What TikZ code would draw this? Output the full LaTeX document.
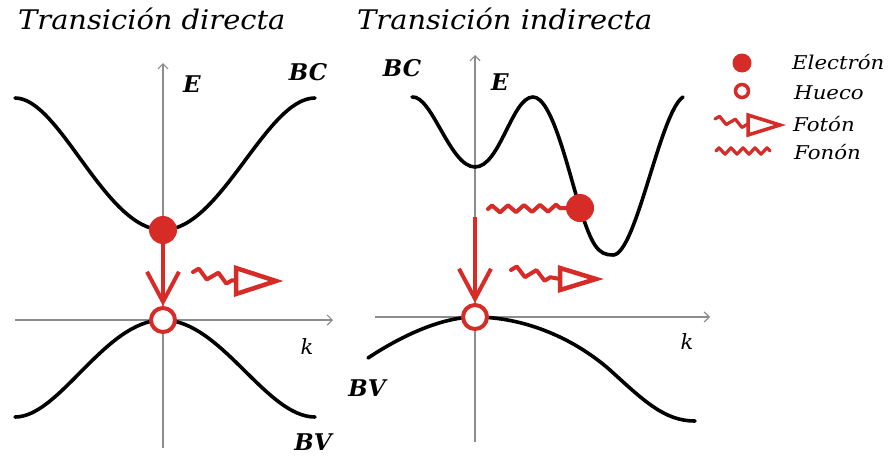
\documentclass[tikz,border=0pt]{standalone}
\usepackage{fontspec}
\setmainfont{DejaVu Serif}
\usepackage{graphicx}
\usetikzlibrary{arrows.meta,decorations.pathmorphing}
\definecolor{rd}{HTML}{D62B27}
\definecolor{ax}{HTML}{8C8C8C}
\newcommand{\wider}[2][1.07]{\scalebox{#1}[1]{#2}}
\tikzset{
  band/.style={line width=3.6pt, black, line cap=round},
  axisline/.style={line width=1.2pt, ax, -{Straight Barb[length=5pt,width=10pt,line width=1.2pt]}},
  elec/.style={circle, fill=rd, minimum size=28pt, inner sep=0pt},
  hole/.style={circle, draw=rd, line width=4pt, fill=white, minimum size=24pt, inner sep=0pt},
  trans/.style={rd, line width=4pt, -{Straight Barb[length=30pt,width=32pt,line width=4pt]}},
  wave/.style={rd, line width=4pt, line join=round, line cap=round, decorate, decoration={zigzag, segment length=16pt, amplitude=3.5pt}},
  phwave/.style={wave, decoration={zigzag, segment length=20pt, amplitude=4.5pt}},
  tri/.style={rd, line width=4.5pt, line join=miter, fill=white},
  blab/.style={font=\fontsize{23}{23}\selectfont\bfseries\itshape, inner sep=0pt},
  klab/.style={font=\fontsize{21}{21}\selectfont\itshape, inner sep=0pt},
  ttl/.style={font=\fontsize{27}{27}\selectfont\itshape, inner sep=0pt, anchor=base west},
  leg/.style={font=\fontsize{19}{19}\selectfont\itshape, inner sep=0pt, anchor=west}
}
\begin{document}
\begin{tikzpicture}[x=1pt,y=-1pt]
\useasboundingbox (0,0) rectangle (888,464);
\fill[white] (0,0) rectangle (888,464);

% titles
\node[ttl] (t1) at (18,29) {\wider{Transición directa}};
\node[ttl] (t2) at (357,29) {\wider{Transición indirecta}};

% ---------- left panel ----------
\coordinate (a1b) at (163,448); \coordinate (a1t) at (163,63);
\coordinate (a1l) at (15,320);  \coordinate (a1r) at (333,320);
\draw[axisline] (a1b) -- (a1t);
\draw[axisline] (a1l) -- (a1r);
\draw[band] (15,98) .. controls (60,98) and (105,230) .. (163,230)
            .. controls (221,230) and (266,98) .. (315,98);
\draw[band] (15,417) .. controls (60,417) and (105,320) .. (163,320)
            .. controls (221,320) and (266,417) .. (315,417);
\node[elec] (e1) at (163,230) {};
\node[hole] (h1) at (163,320) {};
\draw[trans] (e1) -- (h1);
\coordinate (p1a) at (193,272); \coordinate (p1b) at (236,281);
\draw[phwave] (p1a) -- (p1b);
\draw[tri] (236,268) -- (236,294) -- (276,281) -- cycle;
\node[blab] (E1) at (192,84) {E};
\node[blab] (BC1) at (308,72) {BC};
\node[blab] (BV1) at (313,442) {BV};
\node[klab] (k1) at (307,347) {k};

% ---------- right panel ----------
\coordinate (a2b) at (475,442); \coordinate (a2t) at (475,55);
\coordinate (a2l) at (375,317); \coordinate (a2r) at (710,317);
\draw[axisline] (a2b) -- (a2t);
\draw[axisline] (a2l) -- (a2r);
\draw[band] (412,97) .. controls (432,95) and (450,167) .. (475,167)
            .. controls (500,167) and (512,97) .. (533,97)
            .. controls (552,97) and (568,170) .. (580,208)
            .. controls (592,246) and (598,255) .. (613,255)
            .. controls (636,255) and (660,112) .. (683,97);
\draw[band] (368,358) .. controls (398,338) and (440,317) .. (475,317)
            .. controls (520,317) and (570,335) .. (610,370)
            .. controls (645,402) and (665,421) .. (695,421);
\node[elec] (e2) at (580,208) {};
\node[hole] (h2) at (475,317) {};
\coordinate (s2) at (475,217);
\draw[trans] (s2) -- (h2);
\coordinate (f2a) at (488,209);
\draw[wave] (f2a) -- (e2.west);
\coordinate (p2a) at (511,270); \coordinate (p2b) at (560,279);
\draw[phwave] (p2a) -- (p2b);
\draw[tri] (560,268) -- (560,290) -- (596,279) -- cycle;
\node[blab] (E2) at (500,82) {E};
\node[blab] (BC2) at (402,68) {BC};
\node[blab] (BV2) at (367,388) {BV};
\node[klab] (k2) at (687,342) {k};

% ---------- legend ----------
\node[circle, fill=rd, minimum size=19pt, inner sep=0pt] (le) at (742,63) {};
\node[circle, draw=rd, line width=3.5pt, fill=white, minimum size=13pt, inner sep=0pt] (lh) at (742,91) {};
\coordinate (lpa) at (715,119); \coordinate (lpb) at (748,125);
\draw[wave, line width=3.2pt, decoration={zigzag, segment length=16pt, amplitude=3.5pt}] (lpa) -- (lpb);
\draw[tri, line width=3.5pt] (748,115) -- (748,135) -- (780,125) -- cycle;
\coordinate (lfa) at (716,151); \coordinate (lfb) at (770,151);
\draw[wave, line width=3.2pt, decoration={zigzag, segment length=12pt, amplitude=3.2pt}] (lfa) -- (lfb);
\node[leg] (l1) at (792,62) {\wider[1.12]{Electrón}};
\node[leg] (l2) at (794,93) {\wider[1.12]{Hueco}};
\node[leg] (l3) at (793,124) {\wider[1.12]{Fotón}};
\node[leg] (l4) at (794,152) {\wider[1.12]{Fonón}};
\end{tikzpicture}
\end{document}
